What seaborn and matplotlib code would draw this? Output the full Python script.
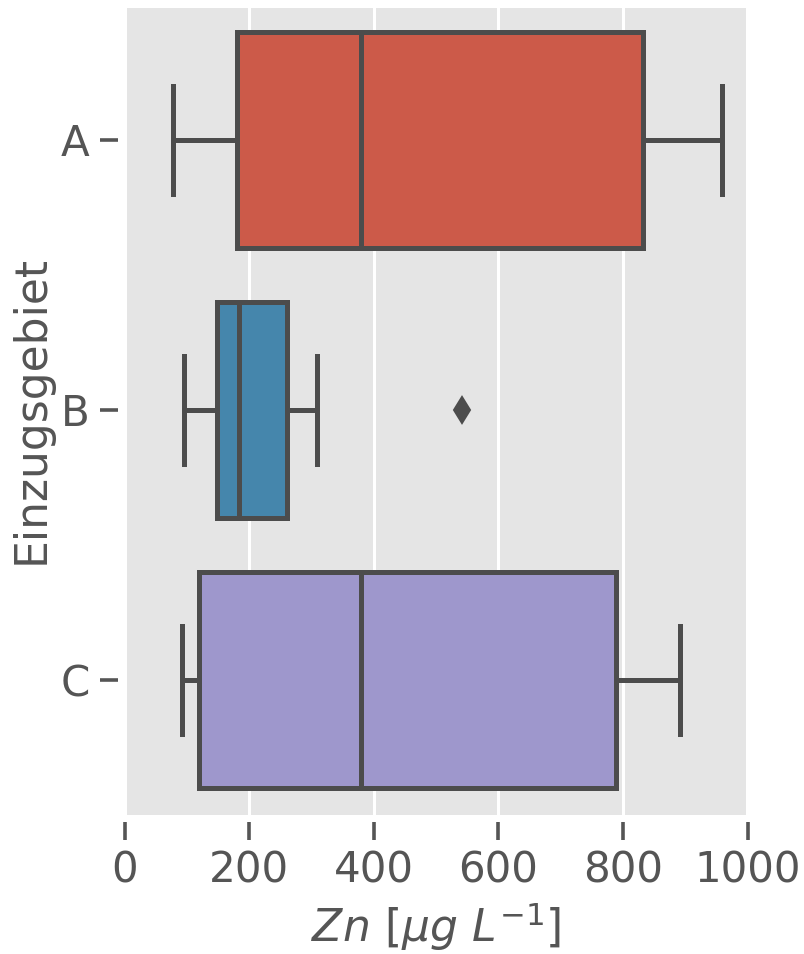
import numpy as np
import pandas as pd
import seaborn as sns
import matplotlib.pyplot as plt

# Zn-Werte je Einzugsgebiet
zn_a = [77, 180, 379, 832, 958]
zn_b = [96, 130, 149, 165, 183, 220, 260, 308, 542]
zn_c = [92, 119, 379, 788, 892]
gebiete = ["A", "B", "C"]

df = pd.DataFrame({
    "Einzugsgebiet": ["A"] * len(zn_a) + ["B"] * len(zn_b) + ["C"] * len(zn_c),
    "Zn": zn_a + zn_b + zn_c,
})

plt.style.use("ggplot")
sns.set_context("poster")
plt.rcParams["font.family"] = ["DejaVu Sans"]

farben = ["#E24A33", "#348ABD", "#988ED5"]
grau = "#4c4c4c"

fig, ax = plt.subplots(figsize=(804 / 144, 954 / 144), dpi=144)
sns.boxplot(data=df, x="Zn", y="Einzugsgebiet", order=gebiete, hue="Einzugsgebiet",
            palette=farben, saturation=0.75, linewidth=2.5, linecolor=grau,
            flierprops=dict(marker="d", markerfacecolor=grau, markeredgecolor=grau,
                            markersize=9), ax=ax)

ax.set_xlim(0, 1000)
ax.set_xticks([0, 200, 400, 600, 800, 1000])
ax.xaxis.grid(True, color="white", linewidth=1.5)
ax.yaxis.grid(False)
ax.set_xlabel(r"$Zn\ [\mu g\ L^{-1}]$", fontsize=22, color="#555555")
ax.set_ylabel("Einzugsgebiet", fontsize=22, color="#555555")
ax.tick_params(axis="both", labelsize=21, labelcolor="#555555", color="#555555",
               length=9, width=1.8, pad=5, direction="out")
for s in ["bottom", "left"]:
    ax.spines[s].set_position(("outward", 3.5))
    ax.spines[s].set_visible(False)

fig.subplots_adjust(left=0.155, right=0.930, top=0.995, bottom=0.146)
plt.savefig("out.png", dpi=144)
